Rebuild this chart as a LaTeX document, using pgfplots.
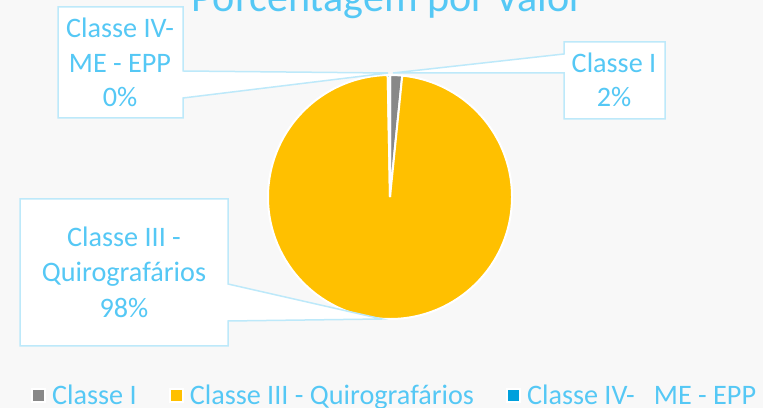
\documentclass[border=0pt]{standalone}
\usepackage{pgfplots}
\pgfplotsset{compat=1.18}
\usepackage{pgfplotstable}
\usepackage{fontspec}
\setmainfont{Carlito}
\definecolor{bgc}{HTML}{F8F8F8}
\definecolor{txt}{HTML}{55C8F5}
\definecolor{boxl}{HTML}{BDE9FA}
\definecolor{cI}{HTML}{888888}
\definecolor{cIII}{HTML}{FFC000}
\definecolor{cIV}{HTML}{00A0DC}

% percentage of total value, per class
\pgfplotstableread{
classe valor
I      1.6
III    98.1
IV     0.3
}\pietable

\begin{document}
\begin{tikzpicture}
\pgfplotstablegetelem{0}{valor}\of\pietable \let\vI\pgfplotsretval
\pgfplotstablegetelem{1}{valor}\of\pietable \let\vIII\pgfplotsretval
\pgfplotstablegetelem{2}{valor}\of\pietable \let\vIV\pgfplotsretval
% slices start at 12 o'clock and run clockwise
\pgfmathsetmacro{\aA}{90}
\pgfmathsetmacro{\aB}{\aA-3.6*\vI}
\pgfmathsetmacro{\aC}{\aB-3.6*\vIII}
\pgfmathsetmacro{\aD}{\aC-3.6*\vIV}

\path[use as bounding box] (0,0) rectangle (763bp,408bp);
\clip (0,0) rectangle (763bp,408bp);
\fill[bgc] (0,0) rectangle (763bp,408bp);

\begin{axis}[
  at={(0,0)}, anchor=south west,
  scale only axis, width=763bp, height=408bp,
  xmin=0, xmax=763, ymin=0, ymax=408,
  hide axis, clip=false,
  legend columns=3,
  legend style={at={(axis cs:31,2)}, anchor=south west,
    draw=none, fill=none, inner sep=0pt,
    font=\fontsize{28.3}{34}\selectfont, text=txt,
    nodes={inner sep=0pt},
    /tikz/every odd column/.append style={column sep=6bp},
    /tikz/every even column/.append style={column sep=32bp}},
  legend image code/.code={\filldraw[#1, draw=white, line width=2bp] (0bp,-7bp) rectangle (13bp,6bp);},
]
\addlegendimage{fill=cI}
\addlegendentry{Classe I}
\addlegendimage{fill=cIII}
\addlegendentry{Classe III - Quirografários}
\addlegendimage{fill=cIV}
\addlegendentry{Classe IV-\ \ \ ME - EPP}

% pie slices
\fill[cI, draw=white, line width=2bp] (axis cs:390,211) -- ++(\aA:122bp)
  arc[start angle=\aA, end angle=\aB, radius=122bp] -- cycle;
\fill[cIII, draw=white, line width=2bp] (axis cs:390,211) -- ++(\aB:122bp)
  arc[start angle=\aB, end angle=\aC, radius=122bp] -- cycle;
\fill[cIV, draw=white, line width=2bp] (axis cs:390,211) -- ++(\aC:122bp)
  arc[start angle=\aC, end angle=\aD, radius=122bp] -- cycle;

% callouts
\filldraw[fill=white, draw=boxl, line width=1.5bp]
  (axis cs:58,401) -- (axis cs:183,401) -- (axis cs:183,337) -- (axis cs:388,335)
  -- (axis cs:183,310) -- (axis cs:183,290) -- (axis cs:58,290) -- cycle;
\filldraw[fill=white, draw=boxl, line width=1.5bp]
  (axis cs:564,366) -- (axis cs:665,366) -- (axis cs:665,289) -- (axis cs:564,289)
  -- (axis cs:564,335) -- (axis cs:393,335) -- (axis cs:564,354) -- cycle;
\filldraw[fill=white, draw=boxl, line width=1.5bp]
  (axis cs:20,209) -- (axis cs:228,209) -- (axis cs:228,124) -- (axis cs:382,89)
  -- (axis cs:228,87) -- (axis cs:228,62) -- (axis cs:20,62) -- cycle;

\begin{scope}[every node/.style={anchor=base, text=txt, inner sep=0pt,
    font=\fontsize{28.3}{34}\selectfont}]
\node at (axis cs:120,370) {Classe IV-};
\node at (axis cs:120,335.5) {ME - EPP};
\node at (axis cs:120,301) {0\%};
\node at (axis cs:614,335) {Classe I};
\node at (axis cs:614,301) {2\%};
\node at (axis cs:124,161) {Classe III -};
\node at (axis cs:124,126) {Quirografários};
\node at (axis cs:124,90) {98\%};
\node[font=\fontsize{42.3}{50}\selectfont] at (axis cs:388,396) {Porcentagem por Valor};
\end{scope}
\end{axis}
\end{tikzpicture}
\end{document}
